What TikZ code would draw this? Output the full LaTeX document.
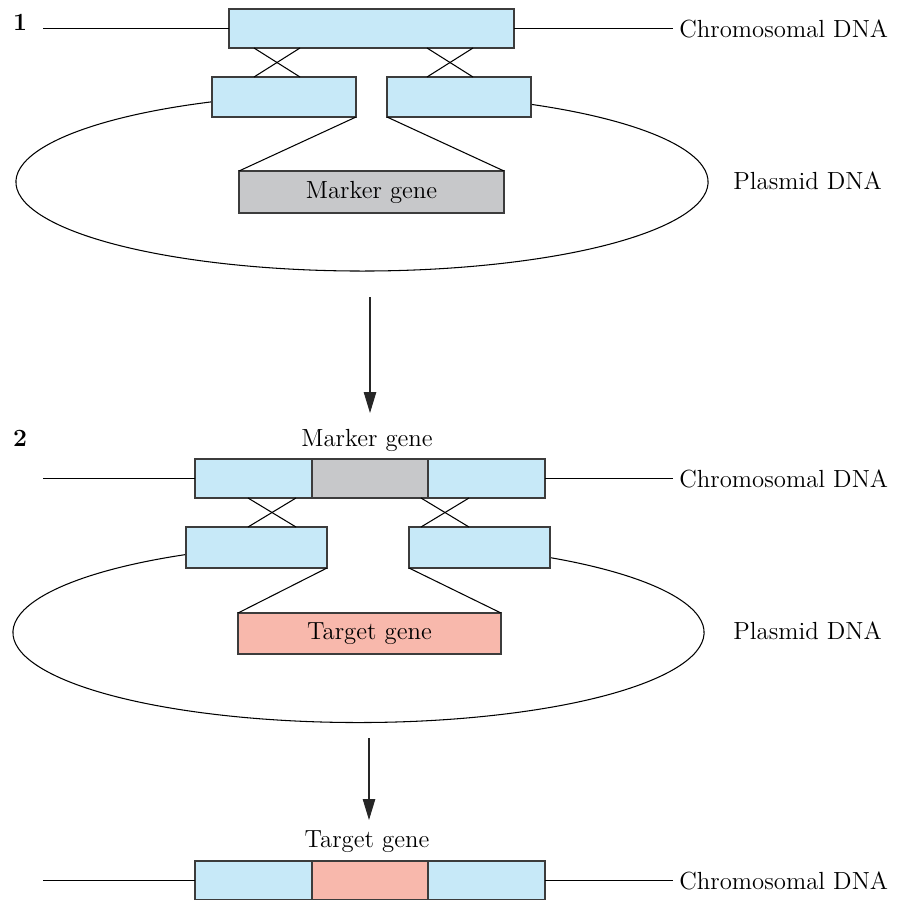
\documentclass[tikz,border=0pt]{standalone}
\usepackage{tikz}
\usetikzlibrary{arrows.meta, positioning}
\definecolor{skyblue}{RGB}{199, 233, 248}
\definecolor{markergray}{RGB}{199, 200, 202}
\definecolor{salmonpink}{RGB}{248, 184, 172}
\definecolor{outlinegray}{RGB}{60, 60, 60}

\begin{document}
\begin{tikzpicture}[font=\fontsize{14.1}{16}\selectfont, line width=0.6pt,
    seg/.style={draw=outlinegray, rectangle, inner sep=0pt, outer sep=0pt, minimum height=0.78cm},
    flank/.style={seg, fill=skyblue},
    flow/.style={-{Triangle[length=0.42cm, width=0.25cm]}, color=black!85}]
    \useasboundingbox (0, 0) rectangle (18.08, -17.98);

    \coordinate (plasA) at (7.24, -3.64);
    \draw (plasA) ++(112:6.92 and 1.78) arc[start angle=112, end angle=425, x radius=6.92, y radius=1.78];
    \node[font=\fontsize{14.1}{16}\bfseries] (stepA) at (0.40, -0.45) {1};
    \coordinate (endA) at (0.86, -0.57);
    \node[flank, minimum width=5.70cm] (topA) at (7.43, -0.57) {};
    \node[right] (chromA) at (13.46, -0.57) {Chromosomal DNA};
    \node[flank, minimum width=2.88cm, minimum height=0.80cm] (lowA1) at (5.68, -1.94) {};
    \node[flank, minimum width=2.88cm, minimum height=0.80cm] (lowA2) at (9.18, -1.94) {};
    \node[seg, fill=markergray, minimum width=5.30cm, minimum height=0.84cm] (markA) at (7.43, -3.84) {Marker gene};
    \node[right] (plasLabelA) at (14.54, -3.62) {Plasmid DNA};
    \draw (endA) -- (topA.west);
    \draw (topA.east) -- (chromA.west);
    \draw ([xshift=0.50cm]topA.south west) -- ([xshift=1.76cm]lowA1.north west);
    \draw ([xshift=1.42cm]topA.south west) -- ([xshift=0.84cm]lowA1.north west);
    \draw ([xshift=-1.74cm]topA.south east) -- ([xshift=1.72cm]lowA2.north west);
    \draw ([xshift=-0.82cm]topA.south east) -- ([xshift=0.80cm]lowA2.north west);
    \draw (lowA1.south east) -- (markA.north west);
    \draw (lowA2.south west) -- (markA.north east);

    \coordinate (arrA1) at (7.40, -5.94);
    \coordinate (arrA2) at (7.40, -8.26);
    \draw[flow] (arrA1) -- (arrA2);

    \coordinate (plasB) at (7.17, -12.65);
    \draw (plasB) ++(112:6.91 and 1.80) arc[start angle=112, end angle=425, x radius=6.91, y radius=1.80];
    \node[font=\fontsize{14.1}{16}\bfseries] (stepB) at (0.40, -8.76) {2};
    \coordinate (endB) at (0.86, -9.57);
    \node[flank, minimum width=2.34cm] (leftB) at (5.07, -9.57) {};
    \node[seg, fill=markergray, minimum width=2.32cm, right=0cm of leftB] (midB) {};
    \node[flank, minimum width=2.34cm, right=0cm of midB] (rightB) {};
    \node[above=0.02cm of midB, xshift=-0.06cm] (markLabelB) {Marker gene};
    \node[right] (chromB) at (13.46, -9.57) {Chromosomal DNA};
    \node[flank, minimum width=2.82cm, minimum height=0.82cm] (lowB1) at (5.13, -10.95) {};
    \node[flank, minimum width=2.82cm, minimum height=0.82cm] (lowB2) at (9.59, -10.95) {};
    \node[seg, fill=salmonpink, minimum width=5.26cm, minimum height=0.82cm] (targB) at (7.39, -12.67) {Target gene};
    \node[right] (plasLabelB) at (14.54, -12.62) {Plasmid DNA};
    \draw (endB) -- (leftB.west);
    \draw (rightB.east) -- (chromB.west);
    \draw ([xshift=1.06cm]leftB.south west) -- ([xshift=2.20cm]lowB1.north west);
    \draw ([xshift=2.02cm]leftB.south west) -- ([xshift=1.24cm]lowB1.north west);
    \draw ([xshift=-2.48cm]rightB.south east) -- ([xshift=1.20cm]lowB2.north west);
    \draw ([xshift=-1.52cm]rightB.south east) -- ([xshift=0.24cm]lowB2.north west);
    \draw (lowB1.south east) -- (targB.north west);
    \draw (lowB2.south west) -- (targB.north east);

    \coordinate (arrB1) at (7.38, -14.76);
    \coordinate (arrB2) at (7.38, -16.40);
    \draw[flow] (arrB1) -- (arrB2);

    \coordinate (endC) at (0.86, -17.61);
    \node[flank, minimum width=2.34cm] (leftC) at (5.07, -17.61) {};
    \node[seg, fill=salmonpink, minimum width=2.32cm, right=0cm of leftC] (midC) {};
    \node[flank, minimum width=2.34cm, right=0cm of midC] (rightC) {};
    \node[above=0.04cm of midC, xshift=-0.06cm] (targLabelC) {Target gene};
    \node[right] (chromC) at (13.46, -17.61) {Chromosomal DNA};
    \draw (endC) -- (leftC.west);
    \draw (rightC.east) -- (chromC.west);
\end{tikzpicture}
\end{document}
